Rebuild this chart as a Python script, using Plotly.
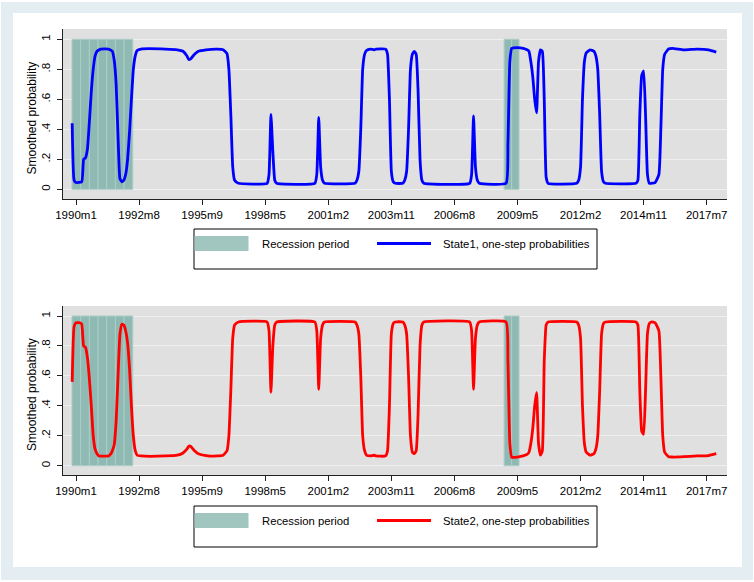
import plotly.graph_objects as go

# ---------------- data ----------------
# x = observation index (0 = first labelled tick "1990m1"), one step per month
tick_labels = ["1990m1", "1992m8", "1995m9", "1998m5", "2001m2", "2003m11",
               "2006m8", "2009m5", "2012m2", "2014m11", "2017m7"]
tick_step = 33

y_tick_vals = [0, 0.2, 0.4, 0.6, 0.8, 1]
y_tick_text = ["0", ".2", ".4", ".6", ".8", "1"]

# recession periods (start, end) in observation index
recession_start = [-2.1, 224.0]
recession_end = [29.7, 231.8]
recession_height = 1.0

month_s1 = [-2, -1, 0, 3, 4, 5, 6, 7, 8, 9, 10, 11, 13, 17, 19, 20, 21, 22, 23, 24, 25, 26,
            27, 28, 29, 30, 31, 32, 34, 47, 53, 56, 58, 59, 60, 62, 64, 68, 74, 77, 79, 80,
            81, 82, 83, 85, 100, 101, 102, 103, 104, 105, 125, 126, 127, 128, 129, 130,
            146, 147, 148, 149, 150, 151, 152, 154, 156, 157,
            162, 163, 164, 165, 166, 167,
            171, 172, 173, 174, 175, 176, 177, 178, 179, 180, 181, 182,
            206, 207, 208, 209, 210, 211,
            225, 226, 227, 228, 231, 234, 236, 237, 238, 239, 240, 241, 242, 243, 244, 245, 246, 247,
            262, 263, 264, 265, 266, 267, 269, 271, 272, 273, 274, 275, 276, 277,
            293, 294, 295, 296, 297, 298, 299, 300,
            303, 305, 306, 307, 308, 310, 312, 318, 325, 331, 335]
prob_s1 = [0.44, 0.06, 0.045, 0.05, 0.2, 0.21, 0.27, 0.45, 0.65, 0.8, 0.89, 0.92, 0.935, 0.935, 0.92, 0.86, 0.7, 0.35, 0.07, 0.05, 0.06, 0.1,
           0.2, 0.38, 0.6, 0.8, 0.89, 0.925, 0.935, 0.935, 0.93, 0.92, 0.89, 0.865, 0.87, 0.9, 0.92, 0.93, 0.935, 0.93, 0.905, 0.8,
           0.5, 0.15, 0.06, 0.04, 0.04, 0.1, 0.5, 0.25, 0.06, 0.04, 0.04, 0.1, 0.48, 0.15, 0.06, 0.04,
           0.04, 0.06, 0.12, 0.4, 0.8, 0.9, 0.925, 0.935, 0.93, 0.935,
           0.935, 0.9, 0.6, 0.12, 0.05, 0.04,
           0.04, 0.06, 0.12, 0.4, 0.8, 0.9, 0.92, 0.9, 0.65, 0.2, 0.06, 0.04,
           0.04, 0.1, 0.49, 0.15, 0.06, 0.04,
           0.04, 0.3, 0.85, 0.94, 0.945, 0.94, 0.93, 0.92, 0.85, 0.75, 0.6, 0.51, 0.85, 0.93, 0.92, 0.6, 0.08, 0.04,
           0.04, 0.06, 0.15, 0.6, 0.85, 0.91, 0.93, 0.92, 0.89, 0.8, 0.5, 0.12, 0.05, 0.04,
           0.04, 0.06, 0.5, 0.76, 0.79, 0.5, 0.1, 0.04,
           0.045, 0.1, 0.4, 0.8, 0.9, 0.935, 0.94, 0.93, 0.935, 0.93, 0.915]

month_s2 = [-2, -1, 0, 2, 3, 4, 5, 6, 7, 8, 9, 10, 11, 12, 17, 18, 19, 20, 21, 22, 23, 24,
            25, 26, 27, 28, 29, 30, 31, 32, 34, 47, 53, 56, 58, 59, 60, 62, 64, 68, 74, 77,
            79, 80, 81, 82, 83, 85, 100, 101, 102, 103, 104, 105, 125, 126, 127, 128, 129, 130,
            146, 147, 148, 149, 150, 151, 152, 154, 156, 157,
            162, 163, 164, 165, 166, 167,
            171, 172, 173, 174, 175, 176, 177, 178, 179, 180, 181, 182,
            206, 207, 208, 209, 210, 211,
            225, 226, 227, 228, 231, 234, 236, 237, 238, 239, 240, 241, 242, 243, 244, 245, 246, 247,
            262, 263, 264, 265, 266, 267, 269, 271, 272, 273, 274, 275, 276, 277,
            293, 294, 295, 296, 297, 298, 299, 300, 301,
            303, 305, 306, 307, 308, 310, 312, 318, 325, 331, 335]
prob_s2 = [0.56, 0.93, 0.955, 0.955, 0.945, 0.8, 0.79, 0.72, 0.58, 0.4, 0.2, 0.11, 0.08, 0.065, 0.065, 0.075, 0.1, 0.14, 0.3, 0.6, 0.88, 0.945,
           0.94, 0.9, 0.82, 0.65, 0.4, 0.2, 0.1, 0.07, 0.065, 0.065, 0.07, 0.085, 0.11, 0.13, 0.13, 0.1, 0.08, 0.068, 0.065, 0.07,
           0.1, 0.2, 0.5, 0.85, 0.94, 0.96, 0.96, 0.9, 0.49, 0.8, 0.94, 0.96, 0.96, 0.9, 0.51, 0.85, 0.94, 0.96,
           0.96, 0.94, 0.88, 0.6, 0.2, 0.1, 0.07, 0.065, 0.07, 0.065,
           0.065, 0.1, 0.4, 0.88, 0.95, 0.96,
           0.96, 0.94, 0.88, 0.6, 0.2, 0.09, 0.08, 0.1, 0.35, 0.8, 0.94, 0.96,
           0.96, 0.9, 0.51, 0.85, 0.94, 0.96,
           0.96, 0.7, 0.15, 0.056, 0.058, 0.065, 0.075, 0.09, 0.15, 0.25, 0.4, 0.49, 0.15, 0.07, 0.1, 0.7, 0.94, 0.96,
           0.96, 0.94, 0.85, 0.4, 0.15, 0.09, 0.07, 0.08, 0.11, 0.2, 0.5, 0.88, 0.95, 0.96,
           0.96, 0.94, 0.5, 0.23, 0.21, 0.5, 0.88, 0.95, 0.96,
           0.955, 0.9, 0.6, 0.2, 0.09, 0.06, 0.058, 0.06, 0.065, 0.068, 0.08]

series_names = ["State1, one-step probabilities", "State2, one-step probabilities"]
recession_name = "Recession period"

# ---------------- styling ----------------
W, H = 754, 582
FONT = "Liberation Sans, Arial, sans-serif"
FRAME = "#e4eef2"
PLOT_BG = "#e0e0e0"
GRID = "#f0f0f0"
REC_FILL = "#8fbab3"
REC_EDGE = "#acccc7"
LEG_FILL = "#a1c6c0"
AXIS = "#222222"
LINE_COLORS = ["#0000ff", "#ff0000"]


def px(x):
    return x / W


def py(y):
    return 1 - y / H


# panel geometry in pixels (plot area)
plot_x0, plot_x1 = 63, 727
panels = [
    dict(top=29, bottom=199, y1px=39.3, y0px=189.3, leg_top=229, leg_bot=269),
    dict(top=306, bottom=475, y1px=316.0, y0px=465.7, leg_top=506, leg_bot=547),
]

# x range: tick 0 at px 76, 33 obs per 63.07 px
obs_px = 63.07 / tick_step
x_zero_px = 76
x_range = [(plot_x0 - x_zero_px) / obs_px, (plot_x1 - x_zero_px) / obs_px]
tick_vals = [i * tick_step for i in range(len(tick_labels))]

fig = go.Figure()
shapes = []
annotations = []

# background frame and white panel
shapes.append(dict(type="rect", xref="paper", yref="paper", x0=px(1), x1=px(753),
                   y0=py(580), y1=py(2), fillcolor=FRAME, line_width=0, layer="below"))
shapes.append(dict(type="rect", xref="paper", yref="paper", x0=px(13), x1=px(742),
                   y0=py(567), y1=py(13), fillcolor="white", line_width=0, layer="below"))

series = [(month_s1, prob_s1), (month_s2, prob_s2)]

for i, p in enumerate(panels):
    xa = "x" if i == 0 else "x2"
    ya = "y" if i == 0 else "y2"
    # gray plot region
    shapes.append(dict(type="rect", xref="paper", yref="paper", x0=px(plot_x0), x1=px(plot_x1),
                       y0=py(p["bottom"]), y1=py(p["top"]), fillcolor=PLOT_BG,
                       line_width=0, layer="below"))

    # recession bars (segmented like the original's bar drawing)
    bx, bw = [], []
    for s, e in zip(recession_start, recession_end):
        n = max(1, round((e - s) / 4.6))
        w = (e - s) / n
        for k in range(n):
            bx.append(s + w * (k + 0.5))
            bw.append(w)
    fig.add_trace(go.Bar(x=bx, y=[recession_height] * len(bx), width=bw, base=0,
                         marker=dict(color=REC_FILL, line=dict(color=REC_EDGE, width=1)),
                         name=recession_name, showlegend=False, xaxis=xa, yaxis=ya,
                         hoverinfo="skip"))

    mx, my = series[i]
    fig.add_trace(go.Scatter(x=mx, y=my, mode="lines", name=series_names[i],
                             line=dict(color=LINE_COLORS[i], width=2.8, shape="spline",
                                       smoothing=0.4),
                             showlegend=False, xaxis=xa, yaxis=ya))

    # y range from pixel geometry
    unit = p["y0px"] - p["y1px"]
    y_lo = -(p["bottom"] - p["y0px"]) / unit
    y_hi = 1 + (p["y1px"] - p["top"]) / unit

    axis_common = dict(showline=True, linecolor=AXIS, linewidth=1, ticks="outside",
                       ticklen=5, tickcolor=AXIS, tickwidth=1, zeroline=False,
                       automargin=False,
                       tickfont=dict(family=FONT, size=11.5, color="black"))
    xk = "xaxis" if i == 0 else "xaxis2"
    yk = "yaxis" if i == 0 else "yaxis2"
    fig.update_layout(**{
        xk: dict(domain=[px(plot_x0), px(plot_x1)], range=x_range, tickvals=tick_vals,
                 ticktext=tick_labels, showgrid=False, anchor=ya, **axis_common),
        yk: dict(domain=[py(p["bottom"]), py(p["top"])], range=[y_lo, y_hi],
                 tickvals=y_tick_vals, ticktext=y_tick_text, tickangle=-90,
                 showgrid=True, gridcolor=GRID, gridwidth=1, anchor=xa,
                 ticklabelstandoff=2, **axis_common),
    })

    # y axis title
    annotations.append(dict(text="Smoothed probability", xref="paper", yref="paper",
                            x=px(31.5), y=py((p["top"] + p["bottom"]) / 2 + 4),
                            textangle=-90, showarrow=False,
                            font=dict(family=FONT, size=12, color="black"),
                            xanchor="center", yanchor="middle"))

    # legend box (drawn manually to match the boxed two-row Stata legend)
    lt, lb = p["leg_top"], p["leg_bot"]
    shapes.append(dict(type="rect", xref="paper", yref="paper", x0=px(194), x1=px(597),
                       y0=py(lb), y1=py(lt), line=dict(color="black", width=1),
                       fillcolor="white", layer="above"))
    mid = lt + 14.5
    shapes.append(dict(type="rect", xref="paper", yref="paper", x0=px(194.5), x1=px(248.5),
                       y0=py(mid + 7.5), y1=py(mid - 7.5), fillcolor=LEG_FILL,
                       line_width=0, layer="above"))
    shapes.append(dict(type="line", xref="paper", yref="paper", x0=px(377), x1=px(431),
                       y0=py(mid), y1=py(mid), line=dict(color=LINE_COLORS[i], width=3),
                       layer="above"))
    annotations.append(dict(text=recession_name, xref="paper", yref="paper",
                            x=px(259.5), y=py(mid), xanchor="left", yanchor="middle",
                            showarrow=False, font=dict(family=FONT, size=11.3, color="black")))
    annotations.append(dict(text=series_names[i], xref="paper", yref="paper",
                            x=px(441), y=py(mid), xanchor="left", yanchor="middle",
                            showarrow=False, font=dict(family=FONT, size=11.3, color="black")))

fig.update_layout(
    width=W, height=H,
    margin=dict(l=0, r=0, t=0, b=0),
    paper_bgcolor="white",
    plot_bgcolor="rgba(0,0,0,0)",
    barmode="overlay",
    showlegend=False,
    hovermode=False,
    shapes=shapes,
    annotations=annotations,
    font=dict(family=FONT, color="black"),
)

fig.write_html("out.html",
               config={"displayModeBar": False, "staticPlot": True},
               post_script="document.body.style.margin='0';document.body.style.overflow='hidden';")
